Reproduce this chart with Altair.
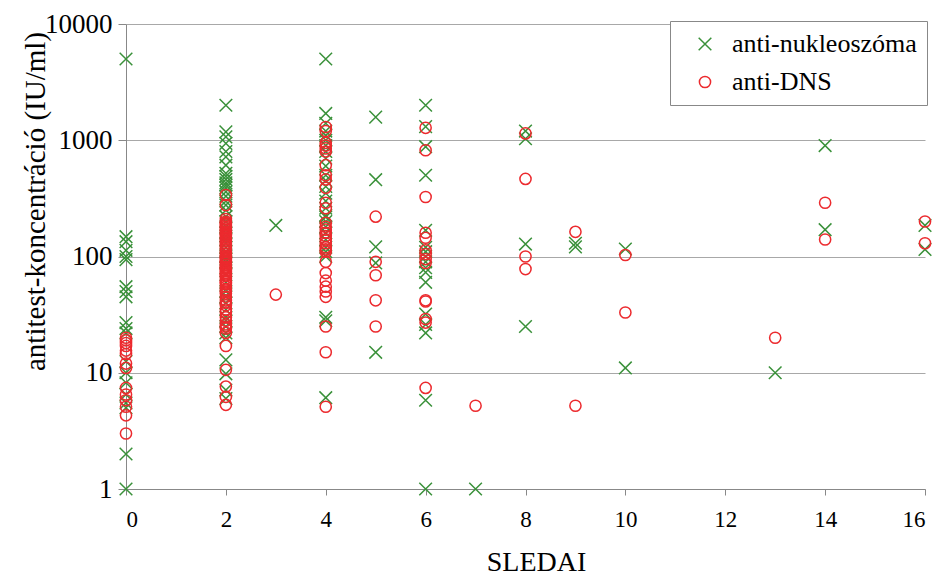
import altair as alt
import pandas as pd

# Antibody concentrations (IU/ml) grouped by SLEDAI score
nukleo = {
    0: [5000, 148, 134, 113, 100, 94, 55, 50, 45, 27, 24, 22, 12.5, 10, 8.2, 6.5, 5.5, 5, 2, 1],
    2: [2000, 1180, 1070, 940, 800, 720, 610, 520, 490, 460, 430, 410, 390, 360, 330, 300, 277,
        250, 220, 200, 180, 160, 150, 140, 130, 120, 110, 100, 95, 90, 80, 70, 60, 50, 45, 40,
        35, 30, 28, 25, 22, 20, 12.9, 9.8, 7.1, 6],
    3: [185],
    4: [5000, 1700, 1400, 1200, 1100, 1000, 900, 800, 700, 600, 500, 450, 400, 350, 300, 260,
        225, 218, 200, 180, 160, 140, 120, 110, 100, 30, 28, 6.1],
    5: [1580, 458, 121, 88, 15],
    6: [2000, 1310, 880, 500, 168, 120, 110, 100, 90, 80, 73, 60, 32, 26, 22, 5.8, 1],
    7: [1],
    8: [1200, 1030, 128, 25],
    9: [130, 121],
    10: [116, 11],
    13: [10],
    14: [900, 170],
    16: [185, 115],
}
dns = {
    0: [20, 19, 18, 17, 15.5, 14.5, 12, 11, 7.4, 6.5, 5.8, 5.1, 4.3, 3],
    2: [338, 277, 210, 200, 195, 190, 185, 180, 175, 170, 165, 160, 155, 150, 145, 140, 135,
        130, 125, 120, 115, 110, 105, 100, 98, 95, 92, 90, 88, 85, 82, 80, 78, 75, 72, 70, 68,
        65, 62, 60, 58, 55, 52, 50, 48, 45, 42, 40, 38, 35, 33, 30, 28, 26, 25, 24, 22, 17,
        10.6, 7.6, 6.2, 5.3],
    3: [47],
    4: [1300, 1200, 950, 900, 850, 800, 610, 500, 460, 390, 290, 260, 195, 180, 170, 160, 150,
        140, 130, 120, 115, 110, 90, 72, 62, 55, 50, 45, 25, 15, 5.1],
    5: [220, 90, 69, 42, 25],
    6: [1280, 820, 325, 160, 145, 113, 105, 95, 88, 42, 41, 29, 27, 7.4],
    7: [5.2],
    8: [1145, 465, 100, 78],
    9: [163, 5.2],
    10: [103, 33],
    13: [20],
    14: [290, 140],
    16: [200, 130],
}

series_names = ["anti-nukleoszóma", "anti-DNS"]
series_colors = ["#3a913a", "#ec2a2e"]
x_shape = "M-1,-1L1,1M-1,1L1,-1"

rows = []
for name, groups in zip(series_names, [nukleo, dns]):
    for score, values in groups.items():
        for v in values:
            rows.append({"SLEDAI": score, "value": v, "series": name})
df = pd.DataFrame(rows)

font = "Liberation Serif"

chart = (
    alt.Chart(df)
    .mark_point(filled=False, strokeWidth=1.5, opacity=1)
    .encode(
        x=alt.X(
            "SLEDAI:Q",
            title="SLEDAI",
            scale=alt.Scale(domain=[0, 16], nice=False),
            axis=alt.Axis(values=list(range(0, 17, 2)), grid=False, tickSize=6,
                          labelPadding=13, labelFontSize=23, titlePadding=17,
                          titleX=410),
        ),
        y=alt.Y(
            "value:Q",
            title="antitest-koncentráció (IU/ml)",
            scale=alt.Scale(type="log", domain=[1, 10000], nice=False),
            axis=alt.Axis(values=[1, 10, 100, 1000, 10000], format="d", grid=True,
                          tickSize=8, labelPadding=6, labelFontSize=27,
                          titleFontSize=29, titleX=-76, titleY=177),
        ),
        color=alt.Color(
            "series:N",
            scale=alt.Scale(domain=series_names, range=series_colors),
            legend=alt.Legend(title=None, orient="none", legendX=544, legendY=-3),
        ),
        shape=alt.Shape(
            "series:N",
            scale=alt.Scale(domain=series_names, range=[x_shape, "circle"]),
        ),
        size=alt.Size(
            "series:N",
            scale=alt.Scale(domain=series_names, range=[160, 125]),
            legend=None,
        ),
        order=alt.Order("order:Q"),
    )
    .transform_calculate(order="datum.series === 'anti-DNS' ? 1 : 0")
    .properties(
        width=799,
        height=465,
        autosize=alt.AutoSizeParams(type="none"),
        padding={"left": 126, "top": 24, "right": 12, "bottom": 88},
    )
    .configure_view(stroke=None)
    .configure_axis(
        labelFont=font, titleFont=font, titleFontSize=28,
        labelColor="#000", titleColor="#000", titleFontWeight="normal",
        domainColor="#888", tickColor="#888", gridColor="#a8a8a8", gridWidth=1,
    )
    .configure_legend(
        labelFont=font, labelFontSize=26, labelColor="#000", strokeColor="#888",
        fillColor="white", padding=10, rowPadding=12, symbolStrokeWidth=1.5,
        labelLimit=400, symbolOffset=12, labelOffset=14,
    )
)

chart.save("out.html", embed_options={"renderer": "svg", "actions": False})
